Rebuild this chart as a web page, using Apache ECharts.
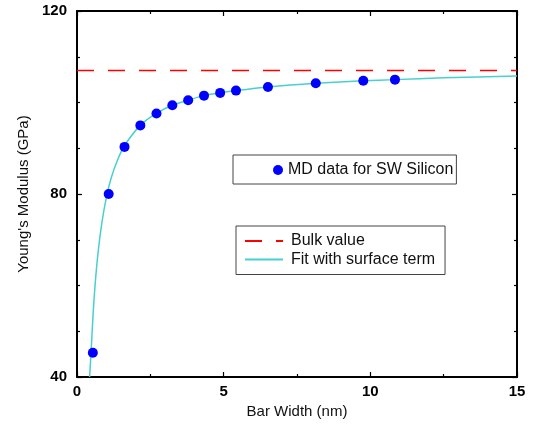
<!DOCTYPE html>
<html>
<head>
<meta charset="utf-8">
<script src="https://cdn.jsdelivr.net/npm/echarts@6/dist/echarts.min.js"></script>
<style>
  html, body { margin: 0; padding: 0; background: #fff; }
  #chart { width: 534px; height: 426px; }
</style>
</head>
<body>
<div id="chart"></div>
<script>
// MD points (bar width in nm, modulus in GPa)
const mdWidth   = [0.54, 1.08, 1.62, 2.16, 2.71, 3.25, 3.79, 4.33, 4.88, 5.42, 6.51, 8.14, 9.76, 10.84];
const mdModulus = [45.3, 80.0, 90.3, 95.0, 97.6, 99.4, 100.5, 101.5, 102.1, 102.6, 103.4, 104.2, 104.75, 105.0];

// fit curve
const fitWidth   = [0.43, 0.48, 0.55, 0.62, 0.72, 0.85, 1.0, 1.17, 1.4, 1.62, 2.16, 2.7, 3.25, 3.79, 4.32, 4.88, 5.42, 6.51, 8.14, 9.76, 10.84, 12.5, 15];
const fitModulus = [40, 45.5, 53.9, 60.4, 67.3, 73.8, 79.2, 83.6, 87.7, 90.6, 95, 97.6, 99.4, 100.5, 101.5, 102.1, 102.6, 103.4, 104.2, 104.75, 105, 105.4, 105.8];

const bulkWidth   = [0, 15];
const bulkModulus = [107, 107];

const FONT = "'Liberation Sans', Arial, sans-serif";

function pairs(xs, ys) {
	return xs.map(function (x, i) { return [x, ys[i]]; });
}

let myEchart = echarts.init(document.getElementById('chart'));

let tickStyle = { show: true, inside: true, length: 5, lineStyle: { color: '#000', width: 1.2 } };
let minorStyle = { show: true, length: 3, lineStyle: { color: '#000', width: 1.2 } };
let lineAxis = { show: true, onZero: false, lineStyle: { color: '#000', width: 2 } };

let opt = {
	animation: false,
	grid: { left: 77, right: 17, top: 11, bottom: 49 },
	legend: [
		{
			data: ['MD data for SW Silicon'],
			left: 233, top: 155,
			orient: 'vertical',
			padding: [7, 3, 6, 40],
			itemWidth: 10, itemHeight: 10,
			icon: 'circle',
			selectedMode: false,
			borderColor: '#444', borderWidth: 1,
			textStyle: { fontFamily: FONT, fontSize: 16, color: '#111' }
		},
		{
			data: [
				{ name: 'Bulk value', icon: 'path://M0,0h17v2h-17zM31,0h7v2h-7z', itemStyle: { color: '#ff0000' } },
				{ name: 'Fit with surface term', icon: 'path://M0,0h38v2h-38z', itemStyle: { color: '#48d1cc' } }
			],
			left: 236, top: 226,
			orient: 'vertical',
			padding: [7, 10, 7, 9],
			itemWidth: 38, itemHeight: 2, itemGap: 2.5,
			selectedMode: false,
			borderColor: '#444', borderWidth: 1,
			textStyle: { fontFamily: FONT, fontSize: 16, color: '#111', padding: [0, 0, 0, 3] }
		}
	],
	xAxis: [
		{
			type: 'value', min: 0, max: 15, interval: 5,
			name: 'Bar Width (nm)', nameLocation: 'middle', nameGap: 26,
			nameTextStyle: { fontFamily: FONT, fontSize: 15, color: '#111' },
			axisLine: lineAxis,
			axisTick: tickStyle,
			minorTick: Object.assign({ splitNumber: 2 }, minorStyle),
			axisLabel: { margin: 7, fontFamily: FONT, fontSize: 15, fontWeight: 'bold', color: '#000' },
			splitLine: { show: false }
		},
		{
			type: 'value', min: 0, max: 15, interval: 5, position: 'top',
			axisLine: lineAxis,
			axisTick: tickStyle,
			minorTick: Object.assign({ splitNumber: 2 }, minorStyle),
			axisLabel: { show: false },
			splitLine: { show: false }
		}
	],
	yAxis: [
		{
			type: 'value', min: 40, max: 120, interval: 40,
			name: "Young's Modulus (GPa)", nameLocation: 'middle', nameGap: 46,
			nameTextStyle: { fontFamily: FONT, fontSize: 15, color: '#111' },
			axisLine: lineAxis,
			axisTick: tickStyle,
			minorTick: Object.assign({ splitNumber: 4 }, minorStyle),
			axisLabel: { margin: 10, fontFamily: FONT, fontSize: 15, fontWeight: 'bold', color: '#000' },
			splitLine: { show: false }
		},
		{
			type: 'value', min: 40, max: 120, interval: 40, position: 'right',
			axisLine: lineAxis,
			axisTick: tickStyle,
			minorTick: Object.assign({ splitNumber: 4 }, minorStyle),
			axisLabel: { show: false },
			splitLine: { show: false }
		}
	],
	series: [
		{
			name: 'Bulk value',
			type: 'line',
			data: pairs(bulkWidth, bulkModulus),
			symbol: 'none',
			itemStyle: { color: '#ff0000' },
			lineStyle: { color: '#ff0000', width: 1.5, type: [17, 14] },
			z: 2
		},
		{
			name: 'Fit with surface term',
			type: 'line',
			data: pairs(fitWidth, fitModulus),
			symbol: 'none',
			smooth: 0.25,
			itemStyle: { color: '#48d1cc' },
			lineStyle: { color: '#48d1cc', width: 1.5 },
			z: 3
		},
		{
			name: 'MD data for SW Silicon',
			type: 'scatter',
			data: pairs(mdWidth, mdModulus),
			symbolSize: 10,
			itemStyle: { color: '#0000ff', opacity: 1 },
			z: 4
		}
	]
};
myEchart.setOption(opt);
</script>
</body>
</html>
